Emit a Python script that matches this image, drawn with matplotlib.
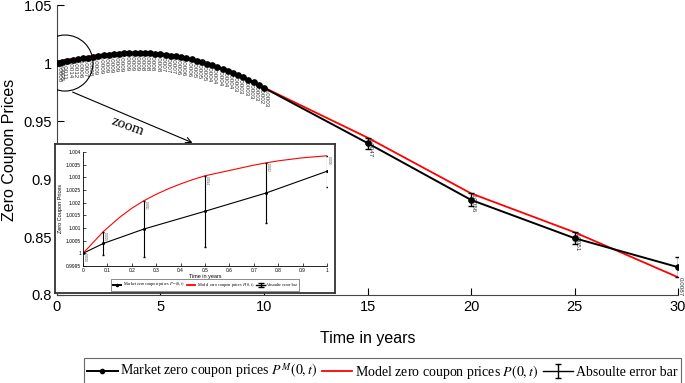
import numpy as np
import matplotlib
matplotlib.use('Agg')
import matplotlib.pyplot as plt
from matplotlib.patches import Ellipse

plt.rcParams['font.family'] = 'Liberation Sans'
plt.rcParams['mathtext.fontset'] = 'stix'

# maturities in years
market_t = [0, 1/12, 0.25, 0.5, 0.75, 1.0,
            1.25, 1.5, 1.75, 2.0, 2.25, 2.5, 2.75, 3.0, 3.25, 3.5, 3.75, 4.0,
            4.25, 4.5, 4.75, 5.0, 5.25, 5.5, 5.75, 6.0, 6.25, 6.5, 6.75, 7.0,
            7.25, 7.5, 7.75, 8.0, 8.25, 8.5, 8.75, 9.0, 9.25, 9.5, 9.75, 10.0,
            15, 20, 25, 30]
# market zero coupon prices P^M(0,t)
market_p = [1.0, 1.00039, 1.00096, 1.00166, 1.00238, 1.00324,
            1.0040, 1.0047, 1.0054, 1.0061, 1.0067, 1.0072, 1.0076, 1.0080,
            1.0083, 1.0085, 1.0086, 1.0086, 1.0085, 1.0083, 1.0080, 1.0076,
            1.0071, 1.0065, 1.0058, 1.0050, 1.0041, 1.0031, 1.0020, 1.0008,
            0.9995, 0.9981, 0.9966, 0.9950, 0.9933, 0.9915, 0.9896, 0.9876,
            0.9855, 0.9833, 0.9810, 0.9786,
            0.9310, 0.8820, 0.8490, 0.8240]
# model zero coupon prices P(0,t) at the same maturities
model_p = [1.0, 1.00086, 1.00208, 1.00306, 1.00357, 1.00385,
           1.0047, 1.0055, 1.0063, 1.0070, 1.0076, 1.0081, 1.0085, 1.0089,
           1.0092, 1.0094, 1.0095, 1.0094, 1.0093, 1.0091, 1.0088, 1.0083,
           1.0078, 1.0072, 1.0064, 1.0056, 1.0047, 1.0036, 1.0025, 1.0013,
           0.9999, 0.9985, 0.9970, 0.9954, 0.9937, 0.9918, 0.9899, 0.9879,
           0.9858, 0.9836, 0.9812, 0.9789,
           0.9357, 0.8876, 0.8541, 0.8153]

# model curve read more finely over the first year (zoom panel)
zoom_t = [0, 1/12, 0.15, 0.2, 0.25, 0.3, 0.35, 0.4, 0.45, 0.5,
          0.6, 0.7, 0.75, 0.8, 0.9, 1.0]
zoom_model = [1.0, 1.00086, 1.00142, 1.00178, 1.00208, 1.00233, 1.00255,
              1.00274, 1.00291, 1.00306, 1.00327, 1.00348, 1.00357, 1.00365,
              1.00377, 1.00385]

x_ticks = [0, 5, 10, 15, 20, 25, 30]
y_ticks = [0.8, 0.85, 0.9, 0.95, 1.0, 1.05]
y_ticklabels = ['0.8', '0.85', '0.9', '0.95', '1', '1.05']
zx_ticks = [0, 0.1, 0.2, 0.3, 0.4, 0.5, 0.6, 0.7, 0.8, 0.9, 1]
zx_ticklabels = ['0', '0.1', '0.2', '0.3', '0.4', '0.5', '0.6', '0.7', '0.8', '0.9', '1']
zy_ticks = [0.9995, 1.0, 1.0005, 1.001, 1.0015, 1.002, 1.0025, 1.003, 1.0035, 1.004]
zy_ticklabels = ['0.9995', '1', '1.0005', '1.001', '1.0015', '1.002', '1.0025',
                 '1.003', '1.0035', '1.004']
labels = ['Market zero coupon prices $P^M(0,t)$',
          'Model zero coupon prices $P(0,t)$',
          'Absoulte error bar']

mt = np.array(market_t)
mp = np.array(market_p)
mo = np.array(model_p)
err = np.abs(mo - mp)

fig = plt.figure(figsize=(6.85, 3.83), dpi=100)
ax = fig.add_axes([0.0832, 0.2298, 0.9066, 0.757])

l_mkt, = ax.plot(mt, mp, '-o', color='k', lw=1.4, ms=3.8, zorder=4)
l_mod, = ax.plot(mt, mo, '-', color='red', lw=1.3, zorder=3)
ax.errorbar(mt, mp, yerr=err, fmt='none', ecolor='k', elinewidth=1, capsize=2.5, zorder=4)
eb_proxy = ax.errorbar([np.nan], [np.nan], yerr=[np.nan], fmt='k-', lw=1, capsize=2.5)
for t, p, e in zip(mt, mo, err):
    ax.text(t, p, f'{e:.4f}', rotation=-90, ha='left', va='top', fontsize=4.5,
            color='#333333', zorder=2)

ax.set_xlim(0, 30)
ax.set_ylim(0.8, 1.05)
ax.set_xticks(x_ticks)
ax.set_xticklabels([str(v) for v in x_ticks])
ax.set_yticks(y_ticks)
ax.set_yticklabels(y_ticklabels)
ax.tick_params(direction='in', length=5, labelsize=10.5, width=0.8)
for s in ['top', 'right']:
    ax.spines[s].set_visible(False)
for s in ['left', 'bottom']:
    ax.spines[s].set_color('#444444')
ax.set_xlabel('Time in years', fontsize=11.5, labelpad=12)
ax.set_ylabel('Zero Coupon Prices', fontsize=11.5, labelpad=5)

# zoom marker
ax.add_patch(Ellipse((0.39, 1.0), 2.7, 0.0483, fill=False, ec='k', lw=0.8, zorder=5))
ax.annotate('', xy=(6.67, 0.9303), xytext=(0.63, 0.9759),
            arrowprops=dict(arrowstyle='->', color='k', lw=0.8))
ax.text(3.4, 0.9450, 'zoom', rotation=-20, ha='center', va='center',
        fontsize=11, family='Liberation Serif')

# zoom panel frame
frame = fig.add_axes([0.0803, 0.235, 0.4088, 0.389])
frame.set_xticks([])
frame.set_yticks([])
for s in frame.spines.values():
    s.set_linewidth(1.3)
    s.set_color('#333333')

zax = fig.add_axes([0.1212, 0.3055, 0.3562, 0.2977])
zax.plot(zoom_t, zoom_model, '-', color='red', lw=0.8)
n0 = 6
zax.plot(mt[:n0], mp[:n0], '-o', color='k', lw=0.8, ms=1.2)
zax.errorbar(mt[:n0], mp[:n0], yerr=err[:n0], fmt='none', ecolor='k', elinewidth=0.8, capsize=1)
for t, p, e in zip(mt[:n0], mo[:n0], err[:n0]):
    zax.text(t, p, f'{e:.4f}', rotation=-90, ha='left', va='top', fontsize=2, color='#333333')
zax.set_xlim(0, 1)
zax.set_ylim(0.9995, 1.004)
zax.set_xticks(zx_ticks)
zax.set_xticklabels(zx_ticklabels)
zax.set_yticks(zy_ticks)
zax.set_yticklabels(zy_ticklabels)
zax.tick_params(direction='in', length=2, labelsize=3.5, width=0.5, pad=1.5)
for s in ['top', 'right']:
    zax.spines[s].set_visible(False)
for s in ['left', 'bottom']:
    zax.spines[s].set_linewidth(0.6)
zax.set_xlabel('Time in years', fontsize=4, labelpad=1)
zax.set_ylabel('Zero Coupon Prices', fontsize=4, labelpad=2)
zleg = zax.legend([l_mkt, l_mod, eb_proxy], labels,
                  loc='center', bbox_to_anchor=(0.2993, 0.2559), bbox_transform=fig.transFigure,
                  ncol=3, prop={'family': 'Liberation Serif', 'size': 3.1},
                  frameon=True, fancybox=False, edgecolor='k', handlelength=2,
                  columnspacing=0.5, handletextpad=0.3, borderpad=0.3, markerscale=0.4)
zleg.get_frame().set_linewidth(0.4)

leg = fig.legend([l_mkt, l_mod, eb_proxy], labels,
                 loc='center', bbox_to_anchor=(0.558, 0.03), ncol=3,
                 prop={'family': 'Liberation Serif', 'size': 10},
                 frameon=True, fancybox=False, edgecolor='#444444', handlelength=2.2,
                 columnspacing=0.3, handletextpad=0.2, borderpad=0.25, markerscale=0.8)
leg.get_frame().set_linewidth(0.8)

fig.savefig('out.png', dpi=100)
